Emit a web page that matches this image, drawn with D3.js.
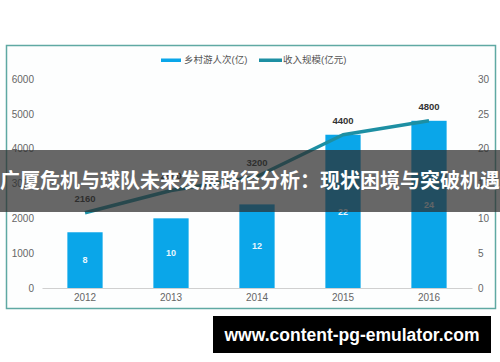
<!DOCTYPE html>
<html>
<head>
<meta charset="utf-8">
<script src="https://cdn.jsdelivr.net/npm/d3@7"></script>
<style>
  body { margin: 0; background: #fff; }
  svg text { font-family: "Liberation Sans", Arial, "Noto Sans CJK SC", sans-serif; }
</style>
</head>
<body>
<svg id="chart" width="500" height="362"></svg>
<script>
// values
var years = ['2012', '2013', '2014', '2015', '2016'];
var visitors = [1600, 2000, 2400, 4400, 4800];          // bars, left axis
var visitorLabels = ['8', '10', '12', '22', '24'];
var revenue = [10.8, 14, 16, 22, 24];                   // line, right axis
var revenueLabels = ['2160', '2800', '3200', '4400', '4800'];
var leftTicks = [0, 1000, 2000, 3000, 4000, 5000, 6000];
var rightTicks = [0, 5, 10, 15, 20, 25, 30];
var seriesNames = ['乡村游人次(亿)', '收入规模(亿元)'];
var bannerTitle = '广厦危机与球队未来发展路径分析：现状困境与突破机遇';
var siteText = 'www.content-pg-emulator.com';

var barColor = '#0aa6e9', lineColor = '#1d8fa3';

var svg = d3.select('#chart');

// outer frame
svg.append('rect')
  .attr('x', 6.5).attr('y', 45.5).attr('width', 489).attr('height', 263)
  .attr('fill', '#fdfefe').attr('stroke', '#5fa9a3').attr('stroke-width', 1.5);

var x = d3.scaleBand().domain(years).range([42, 472]).paddingInner(0.59).paddingOuter(0.295);
var yL = d3.scaleLinear().domain([0, 6000]).range([288, 79]);
var yR = d3.scaleLinear().domain([0, 30]).range([288, 79]);

// axes
var gl = svg.append('g').attr('transform', 'translate(42,0)')
  .call(d3.axisLeft(yL).tickValues(leftTicks).tickFormat(d3.format('d')).tickSize(0).tickPadding(8));
var gr = svg.append('g').attr('transform', 'translate(472,0)')
  .call(d3.axisRight(yR).tickValues(rightTicks).tickFormat(d3.format('d')).tickSize(0).tickPadding(6));
var gb = svg.append('g').attr('transform', 'translate(0,288)')
  .call(d3.axisBottom(x).tickSize(0).tickPadding(6));
gl.select('.domain').remove();
gr.select('.domain').remove();
gb.select('.domain').attr('stroke', '#d0d0d0');
svg.selectAll('.tick text').attr('fill', '#666').attr('font-size', 10)
  .attr('font-family', '"Liberation Sans", Arial, sans-serif');

// bars
svg.selectAll('.bar').data(years).enter().append('rect')
  .attr('class', 'bar')
  .attr('x', function(d){ return x(d); })
  .attr('width', x.bandwidth())
  .attr('y', function(d, i){ return yL(visitors[i]); })
  .attr('height', function(d, i){ return 288 - yL(visitors[i]); })
  .attr('fill', barColor);

svg.selectAll('.barlab').data(years).enter().append('text')
  .attr('x', function(d){ return x(d) + x.bandwidth() / 2; })
  .attr('y', function(d, i){ return (yL(visitors[i]) + 288) / 2; })
  .attr('dy', '0.35em').attr('text-anchor', 'middle')
  .attr('fill', '#e8f6fd').attr('font-size', 9).attr('font-weight', 'bold')
  .text(function(d, i){ return visitorLabels[i]; });

// revenue line
var line = d3.line()
  .x(function(d, i){ return x(years[i]) + x.bandwidth() / 2; })
  .y(function(d){ return yR(d); });
svg.append('path').datum(revenue)
  .attr('d', line).attr('fill', 'none')
  .attr('stroke', lineColor).attr('stroke-width', 3.5)
  .attr('stroke-linejoin', 'round');

svg.selectAll('.linelab').data(years).enter().append('text')
  .attr('x', function(d){ return x(d) + x.bandwidth() / 2; })
  .attr('y', function(d, i){ return yR(revenue[i]) - 11; })
  .attr('text-anchor', 'middle')
  .attr('fill', '#333').attr('font-size', 9.5).attr('font-weight', 'bold')
  .text(function(d, i){ return revenueLabels[i]; });

// legend
var legend = svg.append('g').attr('font-size', 9.5).attr('fill', '#555');
legend.append('rect').attr('x', 161).attr('y', 58.5).attr('width', 20).attr('height', 3.5).attr('fill', barColor);
legend.append('text').attr('x', 184).attr('y', 60).attr('dy', '0.35em')
  .attr('font-family', '"Noto Sans CJK SC", sans-serif').attr('fill', '#555').text(seriesNames[0]);
legend.append('rect').attr('x', 259).attr('y', 58.5).attr('width', 23).attr('height', 3.5).attr('fill', lineColor);
legend.append('text').attr('x', 283).attr('y', 60).attr('dy', '0.35em')
  .attr('font-family', '"Noto Sans CJK SC", sans-serif').attr('fill', '#555').text(seriesNames[1]);

// overlay banner
svg.append('rect').attr('x', 0).attr('y', 150).attr('width', 500).attr('height', 62)
  .attr('fill', 'rgba(45,45,45,0.72)');
svg.append('text').attr('x', 250).attr('y', 181).attr('dy', '0.35em')
  .attr('text-anchor', 'middle').attr('fill', '#fff')
  .attr('font-family', '"Noto Sans CJK SC", sans-serif')
  .attr('font-size', 20).attr('font-weight', 'bold')
  .text(bannerTitle);

// site box
svg.append('rect').attr('x', 213).attr('y', 316).attr('width', 278).attr('height', 37).attr('fill', '#000');
svg.append('text').attr('x', 352).attr('y', 335).attr('dy', '0.35em')
  .attr('text-anchor', 'middle').attr('fill', '#fff')
  .attr('font-family', '"Open Sans", "DejaVu Sans", sans-serif')
  .attr('font-size', 17.5).attr('font-weight', 'bold')
  .text(siteText);
</script>
</body>
</html>
